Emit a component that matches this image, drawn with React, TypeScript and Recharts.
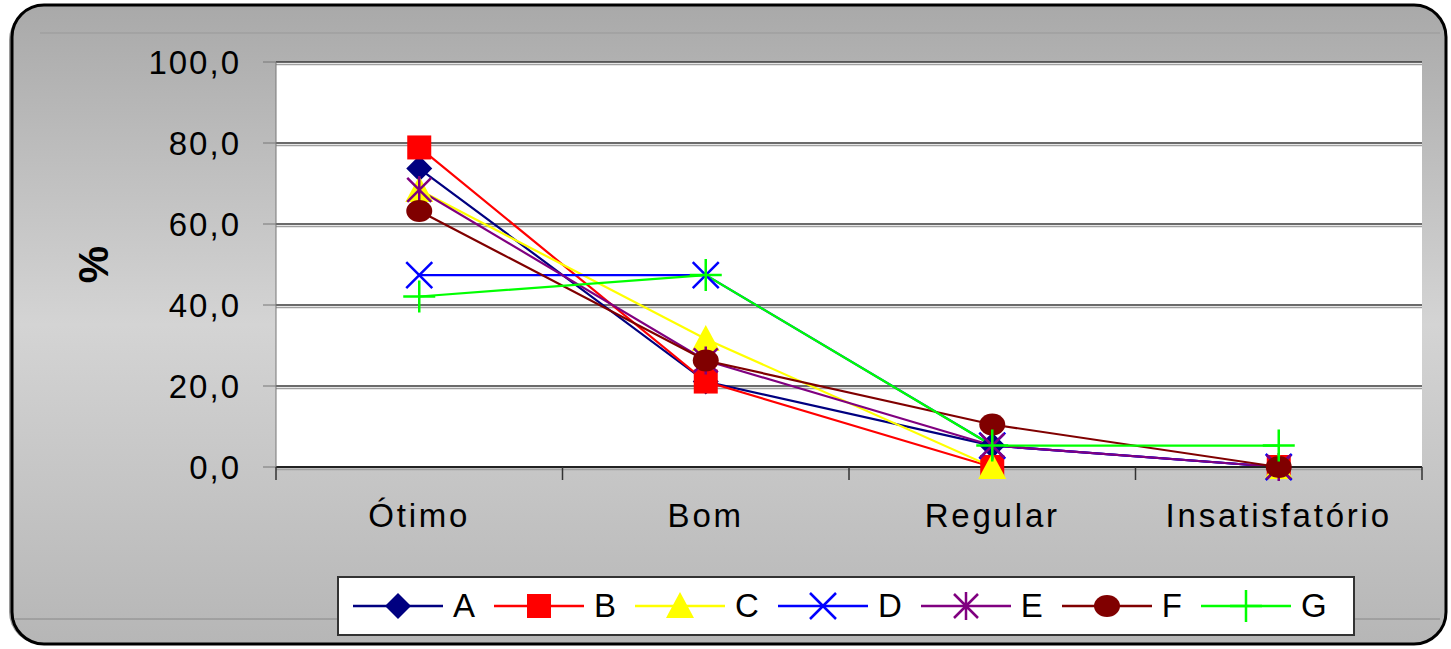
import React from "react";
import { LineChart, Line, XAxis, YAxis, CartesianGrid, Legend } from "recharts";

const categories = ["Ótimo", "Bom", "Regular", "Insatisfatório"];
const valuesA = [73.7, 21.1, 5.3, 0];
const valuesB = [78.9, 21.1, 0, 0];
const valuesC = [68.4, 31.6, 0, 0];
const valuesD = [47.4, 47.4, 5.3, 0];
const valuesE = [68.4, 26.3, 5.3, 0];
const valuesF = [63.2, 26.3, 10.5, 0];
const valuesG = [42.1, 47.4, 5.3, 5.3];
const yTicks = [0, 20, 40, 60, 80, 100];

const series = [
  { key: "A", values: valuesA, color: "#000080", shape: "diamond" },
  { key: "B", values: valuesB, color: "#ff0000", shape: "square" },
  { key: "C", values: valuesC, color: "#ffff00", shape: "triangle" },
  { key: "D", values: valuesD, color: "#0000ff", shape: "x" },
  { key: "E", values: valuesE, color: "#800080", shape: "star" },
  { key: "F", values: valuesF, color: "#800000", shape: "circle" },
  { key: "G", values: valuesG, color: "#00ff00", shape: "plus" },
];

const data = categories.map((name, i) => {
  const row: Record<string, any> = { name };
  series.forEach((s) => (row[s.key] = s.values[i]));
  return row;
});

const W = 1451;
const H = 649;
const margin = { top: 62, right: 29, bottom: 122, left: 176 };
const yAxisWidth = 100;
const plotWidth = W - margin.left - margin.right - yAxisWidth;
const band = plotWidth / categories.length;
const font = "'Liberation Sans', Arial, sans-serif";

function Marker({ shape, cx, cy, color }: any) {
  switch (shape) {
    case "diamond":
      return <polygon points={`${cx},${cy - 13} ${cx + 13},${cy} ${cx},${cy + 13} ${cx - 13},${cy}`} fill={color} />;
    case "square":
      return <rect x={cx - 12} y={cy - 12} width={24} height={24} fill={color} />;
    case "triangle":
      return <polygon points={`${cx},${cy - 14} ${cx + 14},${cy + 12} ${cx - 14},${cy + 12}`} fill={color} />;
    case "x":
      return (
        <path d={`M${cx - 13},${cy - 13}L${cx + 13},${cy + 13}M${cx - 13},${cy + 13}L${cx + 13},${cy - 13}`} stroke={color} strokeWidth={2.5} />
      );
    case "star":
      return (
        <path
          d={`M${cx - 12},${cy - 12}L${cx + 12},${cy + 12}M${cx - 12},${cy + 12}L${cx + 12},${cy - 12}M${cx},${cy - 14}L${cx},${cy + 14}`}
          stroke={color}
          strokeWidth={2.5}
        />
      );
    case "circle":
      return <ellipse cx={cx} cy={cy} rx={13} ry={11} fill={color} />;
    default:
      return <path d={`M${cx - 16},${cy}L${cx + 16},${cy}M${cx},${cy - 16}L${cx},${cy + 16}`} stroke={color} strokeWidth={2.5} />;
  }
}

const fmt = (v: number) => v.toFixed(1).replace(".", ",");

function XTick(props: any) {
  const { x, y, payload, index } = props;
  const axisY = y - 13;
  return (
    <g>
      <line x1={x - band / 2} x2={x - band / 2} y1={axisY} y2={axisY + 13} stroke="#333" strokeWidth={1.5} />
      {index === categories.length - 1 && (
        <line x1={x + band / 2} x2={x + band / 2} y1={axisY} y2={axisY + 13} stroke="#333" strokeWidth={1.5} />
      )}
      <text x={x} y={axisY + 60} textAnchor="middle" fontSize={33} letterSpacing={2.8} fontFamily={font} fill="#000">
        {payload.value}
      </text>
    </g>
  );
}

function GridLine(p: any) {
  return (
    <g key={p.key}>
      <line x1={p.x1} x2={p.x2} y1={p.y1} y2={p.y2} stroke="#3a3a3a" strokeWidth={1.5} />
      <line x1={p.x1} x2={p.x2} y1={p.y1 + 2.5} y2={p.y2 + 2.5} stroke="#a0a0a0" strokeWidth={1.5} />
    </g>
  );
}

function LegendBox() {
  return (
    <div
      style={{
        boxSizing: "border-box",
        width: 1018,
        height: 60,
        background: "#fff",
        border: "2px solid #333",
        display: "flex",
        alignItems: "center",
        paddingLeft: 14,
        gap: 19,
        fontFamily: font,
      }}
    >
      {series.map((s) => (
        <div key={s.key} style={{ display: "flex", alignItems: "center", gap: 10 }}>
          <svg width={90} height={34}>
            <line x1={0} x2={90} y1={17} y2={17} stroke={s.color} strokeWidth={2.5} />
            <Marker shape={s.shape} cx={45} cy={17} color={s.color} />
          </svg>
          <span style={{ fontSize: 33, lineHeight: "34px" }}>{s.key}</span>
        </div>
      ))}
    </div>
  );
}

export default function App() {
  return (
    <div style={{ position: "absolute", left: 0, top: 0, width: W, height: H }}>
      <svg width={W} height={H} style={{ position: "absolute", left: 0, top: 0 }}>
        <defs>
          <linearGradient id="bg" x1="0" y1="0" x2="0" y2="1">
            <stop offset="0" stopColor="#a9a9a9" />
            <stop offset="0.5" stopColor="#d4d4d4" />
            <stop offset="1" stopColor="#b6b6b6" />
          </linearGradient>
        </defs>
        <rect x={9} y={8} width={1434} height={636} rx={32} fill="#9a9a9a" />
        <rect x={12} y={5} width={1434} height={639} rx={32} fill="url(#bg)" stroke="#000" strokeWidth={3} />
        <line x1={40} x2={1440} y1={33} y2={33} stroke="#999" strokeWidth={1} />
        <line x1={14} x2={1440} y1={619} y2={619} stroke="#888" strokeWidth={1} />
      </svg>
      <div style={{ position: "absolute", left: 0, top: 0 }}>
        <LineChart width={W} height={H} data={data} margin={margin}>
          <CartesianGrid fill="#fff" vertical={false} horizontal={GridLine} />
          <XAxis
            dataKey="name"
            padding={{ left: band / 2, right: band / 2 }}
            tickLine={false}
            tickSize={13}
            tickMargin={0}
            height={60}
            stroke="#222"
            strokeWidth={2}
            tick={<XTick />}
            interval={0}
          />
          <YAxis
            domain={[0, 100]}
            ticks={yTicks}
            width={yAxisWidth}
            tickFormatter={fmt}
            tickSize={13}
            tickMargin={22}
            stroke="#777"
            tick={{ fontSize: 33, letterSpacing: 2, fill: "#000", fontFamily: font }}
            label={{
              content: (p: any) => {
                const vb = p.viewBox;
                const cx = vb.x - 83;
                const cy = vb.y + vb.height / 2;
                return (
                  <text x={cx} y={cy} transform={`rotate(-90 ${cx} ${cy})`} textAnchor="middle" dominantBaseline="central" fontSize={42} fontWeight="bold" fontFamily={font}>
                    %
                  </text>
                );
              },
            }}
          />
          <Legend
            layout="horizontal"
            verticalAlign="middle"
            align="center"
            wrapperStyle={{ left: 337, top: 576, width: 1018, height: 60 }}
            content={() => <LegendBox />}
          />
          {series.map((s) => (
            <Line
              key={s.key}
              type="linear"
              dataKey={s.key}
              stroke={s.color}
              strokeWidth={2.2}
              isAnimationActive={false}
              dot={(p: any) => <Marker key={`${s.key}-${p.index}`} shape={s.shape} cx={p.cx} cy={p.cy} color={s.color} />}
              activeDot={false}
            />
          ))}
        </LineChart>
      </div>
    </div>
  );
}
